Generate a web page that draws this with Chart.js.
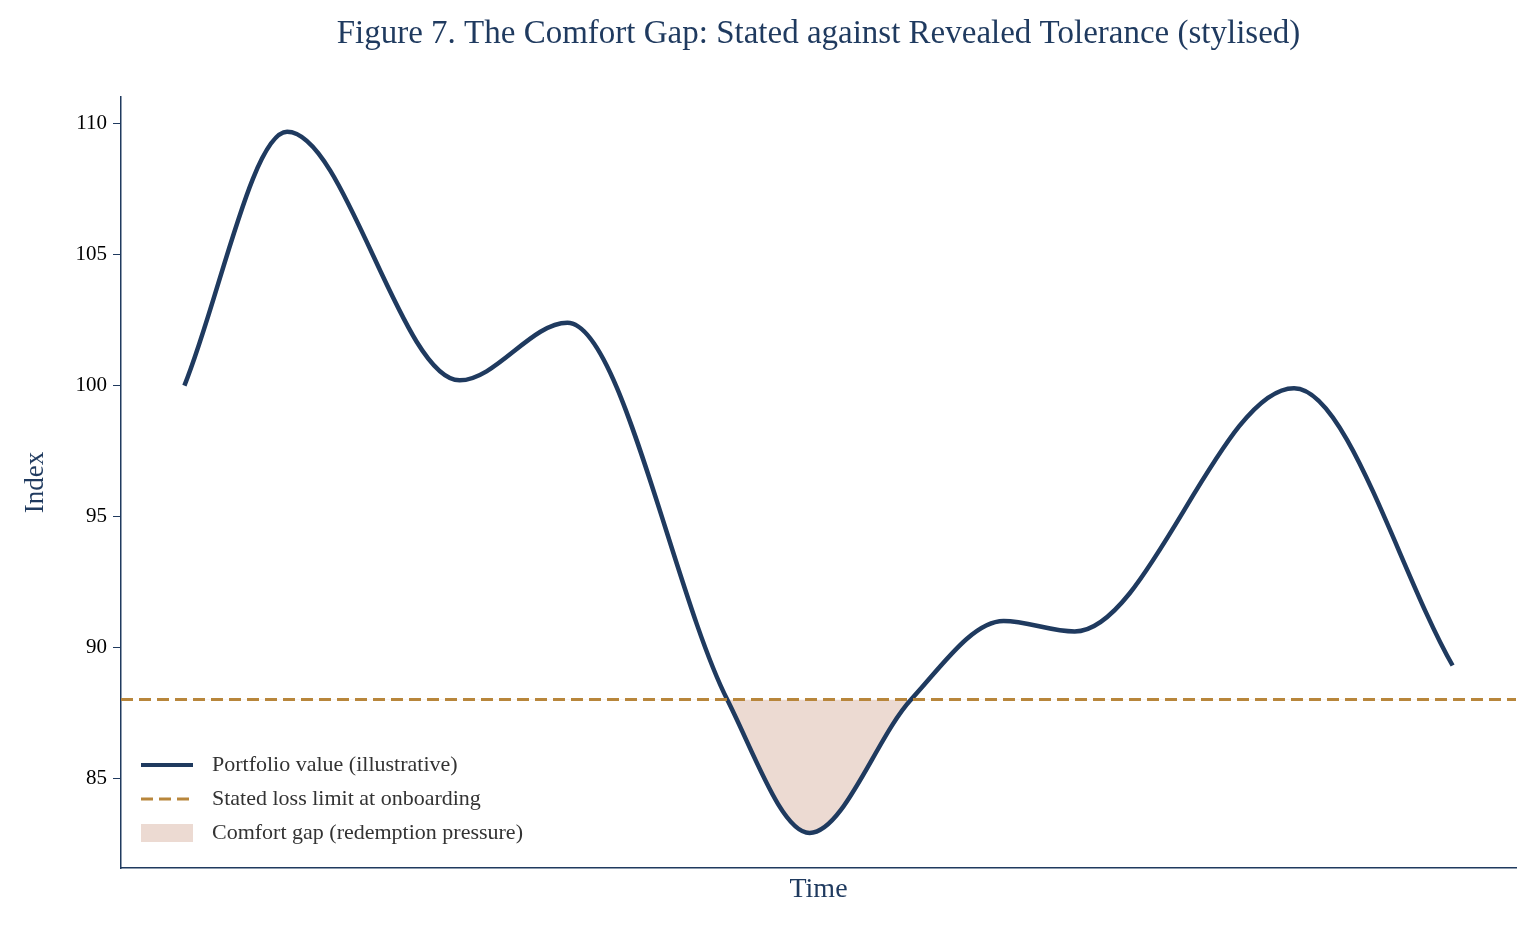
<!DOCTYPE html>
<html><head><meta charset="utf-8">
<script src="https://cdn.jsdelivr.net/npm/chart.js@4"></script>
<style>html,body{margin:0;padding:0;background:#fff}#w{width:1536px;height:928px}</style>
</head><body><div id="w"><canvas id="c"></canvas></div>
<script>
const timeX = [0, 8.1, 21.7, 30.2, 42.8, 49.3, 57.3, 64.6, 70.2, 87.5, 100];
const portfolio = [100, 109.7, 100.2, 102.4, 88, 82.9, 88, 91.0, 90.6, 99.9, 89.3];
const limitValue = 88;
const yTicks = [85, 90, 95, 100, 105, 110];
const titleText = 'Figure 7. The Comfort Gap: Stated against Revealed Tolerance (stylised)';
const legendLabels = ['Portfolio value (illustrative)', 'Stated loss limit at onboarding', 'Comfort gap (redemption pressure)'];
const NAVY = '#1f3a5f', GOLD = '#b8863b', FILL = '#ecdad2';
const serif = '"Liberation Serif", "DejaVu Serif", serif';

const overlay = {
  id: 'overlay',
  afterDraw(chart) {
    const ctx = chart.ctx, a = chart.chartArea;
    ctx.save();
    ctx.fillStyle = NAVY; ctx.font = '33px ' + serif; ctx.textAlign = 'center'; ctx.textBaseline = 'middle';
    ctx.fillText(titleText, (a.left + a.right) / 2, 34);
    ctx.font = '22px ' + serif; ctx.textAlign = 'left';
    const x0 = 141, ys = [765, 799, 833];
    ctx.lineWidth = 4; ctx.strokeStyle = NAVY; ctx.setLineDash([]);
    ctx.beginPath(); ctx.moveTo(x0, ys[0]); ctx.lineTo(x0 + 52, ys[0]); ctx.stroke();
    ctx.lineWidth = 3; ctx.strokeStyle = GOLD; ctx.setLineDash([12, 6]);
    ctx.beginPath(); ctx.moveTo(x0, ys[1]); ctx.lineTo(x0 + 52, ys[1]); ctx.stroke();
    ctx.setLineDash([]);
    ctx.fillStyle = FILL; ctx.fillRect(x0, ys[2] - 9, 52, 18);
    ctx.fillStyle = '#333';
    legendLabels.forEach((t, i) => ctx.fillText(t, x0 + 71, ys[i]));
    ctx.restore();
  }
};

new Chart(document.getElementById('c'), {
  type: 'line',
  data: {
    datasets: [
      { label: legendLabels[0], data: timeX.map((x, i) => ({x, y: portfolio[i]})),
        borderColor: NAVY, borderWidth: 4.5, pointRadius: 0, cubicInterpolationMode: 'monotone',
        fill: { target: { value: limitValue }, above: 'rgba(0,0,0,0)', below: FILL }, order: 2 },
      { label: legendLabels[1], data: [{x: -5, y: limitValue}, {x: 105, y: limitValue}],
        borderColor: GOLD, borderWidth: 3, borderDash: [12, 6], pointRadius: 0, fill: false, order: 1 }
    ]
  },
  options: {
    responsive: true, maintainAspectRatio: false, animation: false,
    layout: { padding: { top: 97, right: 20, left: 16, bottom: 18 } },
    plugins: { legend: { display: false }, title: { display: false }, tooltip: { enabled: false } },
    scales: {
      x: { type: 'linear', min: -5, max: 105,
        ticks: { display: false }, grid: { display: false },
        border: { display: true, color: NAVY, width: 1.5 },
        title: { display: true, text: 'Time', color: NAVY, font: { family: serif, size: 28 }, padding: { top: 4 } },
        afterFit: s => { s.height = 42; } },
      y: { min: 81.56, max: 111.03,
        afterBuildTicks: s => { s.ticks = yTicks.map(v => ({ value: v })); },
        ticks: { color: '#000', font: { family: serif, size: 21 }, padding: 6 },
        grid: { drawOnChartArea: false, drawTicks: true, tickLength: 8, color: NAVY },
        border: { display: true, color: NAVY, width: 1.5 },
        title: { display: true, text: 'Index', color: NAVY, font: { family: serif, size: 27 } },
        afterFit: s => { s.width = 105; } }
    }
  },
  plugins: [overlay]
});
</script></body></html>
